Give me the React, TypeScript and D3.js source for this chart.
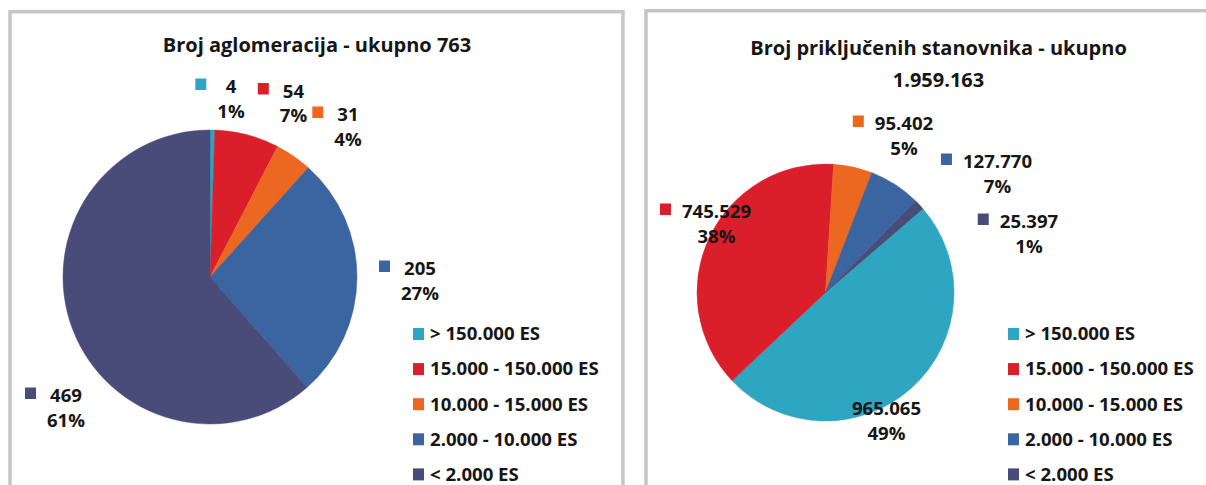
import React, { useEffect, useRef } from "react";
import * as d3 from "d3";

// ---------- data ----------
const categories = [
  "> 150.000 ES",
  "15.000 - 150.000 ES",
  "10.000 - 15.000 ES",
  "2.000 - 10.000 ES",
  "< 2.000 ES",
];
const sliceColors = ["#2ea5c1", "#da1f2b", "#ec6722", "#3a65a0", "#494b79"];
const brojAglomeracija = [4, 54, 31, 205, 469];
const brojStanovnika = [965065, 745529, 95402, 127770, 25397];
const titleAglomeracija = "Broj aglomeracija - ukupno";
const titleStanovnika = "Broj priključenih stanovnika - ukupno";

// ---------- layout ----------
const W = 1206;
const H = 485;
const FONT = "'Open Sans', 'Liberation Sans', Arial, sans-serif";
const TEXT_COLOR = "#161616";
const BORDER = "#c6c6c6";

const panels = [
  { x: 10, y: 11.7, w: 613, h: 520 },
  { x: 646, y: 10.7, w: 613, h: 520 },
];

const charts = [
  {
    values: brojAglomeracija,
    title: titleAglomeracija,
    twoLineTitle: false,
    cx: 210,
    cy: 277,
    r: 147,
    startDeg: 0,
    titleX: 317,
    titleYs: [52],
    legendX: 413,
    // label anchor (text centre x, first baseline) relative to pie centre
    labelOffsets: [
      [21, -184],
      [83.5, -179.5],
      [138, -156],
      [210, -2],
      [-144, 125],
    ],
  },
  {
    values: brojStanovnika,
    title: titleStanovnika,
    twoLineTitle: true,
    cx: 825.5,
    cy: 292.5,
    r: 128.5,
    startDeg: 49.3,
    titleX: 938.5,
    titleYs: [55, 87],
    legendX: 1008,
    labelOffsets: [
      [61, 122.5],
      [-109, -74.5],
      [78.5, -162.5],
      [172, -124.5],
      [203.5, -64.5],
    ],
  },
];

const legendRowCenter0 = 334;
const legendRowStep = 35.1;

const locale = d3.formatLocale({
  decimal: ",",
  thousands: ".",
  grouping: [3],
  currency: ["", ""],
});
const fmtNum = locale.format(",");

export default function App() {
  const ref = useRef<SVGSVGElement | null>(null);

  useEffect(() => {
    const svg = d3.select(ref.current);
    svg.selectAll("*").remove();

    svg.append("rect").attr("width", W).attr("height", H).attr("fill", "#ffffff");

    // panels
    svg
      .selectAll("rect.panel")
      .data(panels)
      .join("rect")
      .attr("class", "panel")
      .attr("x", (d) => d.x)
      .attr("y", (d) => d.y)
      .attr("width", (d) => d.w)
      .attr("height", (d) => d.h)
      .attr("fill", "none")
      .attr("stroke", BORDER)
      .attr("stroke-width", 3.5);

    charts.forEach((c) => {
      const g = svg.append("g");
      const total = d3.sum(c.values);

      // title
      const titleLines = c.twoLineTitle
        ? [c.title, fmtNum(total)]
        : [`${c.title} ${fmtNum(total)}`];
      titleLines.forEach((line, i) => {
        g.append("text")
          .attr("x", c.titleX)
          .attr("y", c.titleYs[i])
          .attr("text-anchor", "middle")
          .attr("font-family", FONT)
          .attr("font-weight", 700)
          .attr("font-size", 20)
          .attr("fill", TEXT_COLOR)
          .text(line);
      });

      // pie
      const start = (c.startDeg * Math.PI) / 180;
      const pie = d3
        .pie<number>()
        .sort(null)
        .value((d) => d)
        .startAngle(start)
        .endAngle(start + 2 * Math.PI);
      const arc = d3.arc<d3.PieArcDatum<number>>().innerRadius(0).outerRadius(c.r);
      const arcs = pie(c.values);
      g.append("g")
        .attr("transform", `translate(${c.cx},${c.cy})`)
        .selectAll("path")
        .data(arcs)
        .join("path")
        .attr("d", arc)
        .attr("fill", (_, i) => sliceColors[i])
        .attr("stroke", (_, i) => sliceColors[i])
        .attr("stroke-width", 0.5);

      // data labels
      arcs.forEach((a, i) => {
        const [dx, dy] = c.labelOffsets[i];
        const tx = c.cx + dx;
        const ty = c.cy + dy;
        const pct = Math.round((a.value / total) * 100) + "%";
        const lg = g.append("g");
        const t1 = lg
          .append("text")
          .attr("x", tx)
          .attr("y", ty)
          .attr("text-anchor", "middle")
          .attr("font-family", FONT)
          .attr("font-weight", 700)
          .attr("font-size", 18.6)
          .attr("fill", TEXT_COLOR)
          .text(fmtNum(a.value));
        const t2 = lg
          .append("text")
          .attr("x", tx)
          .attr("y", ty + 24.5)
          .attr("text-anchor", "middle")
          .attr("font-family", FONT)
          .attr("font-weight", 700)
          .attr("font-size", 18.6)
          .attr("fill", TEXT_COLOR)
          .text(pct);
        const w1 = (t1.node() as SVGTextElement).getComputedTextLength();
        const w2 = (t2.node() as SVGTextElement).getComputedTextLength();
        const maxW = Math.max(w1, w2);
        lg.insert("rect", "text")
          .attr("x", tx - maxW / 2 - 22)
          .attr("y", ty - 14.5)
          .attr("width", 11)
          .attr("height", 11.5)
          .attr("fill", sliceColors[i]);
      });

      // legend
      const lgd = g.append("g");
      categories.forEach((cat, i) => {
        const yc = legendRowCenter0 + i * legendRowStep;
        lgd
          .append("rect")
          .attr("x", c.legendX)
          .attr("y", yc - 6)
          .attr("width", 11)
          .attr("height", 12)
          .attr("fill", sliceColors[i]);
        lgd
          .append("text")
          .attr("x", c.legendX + 17)
          .attr("y", yc + 6.3)
          .attr("font-family", FONT)
          .attr("font-weight", 700)
          .attr("font-size", 18.6)
          .attr("fill", TEXT_COLOR)
          .text(cat);
      });
    });
  }, []);

  return (
    <svg
      ref={ref}
      width={W}
      height={H}
      style={{ position: "absolute", left: 0, top: 0, display: "block" }}
    />
  );
}
